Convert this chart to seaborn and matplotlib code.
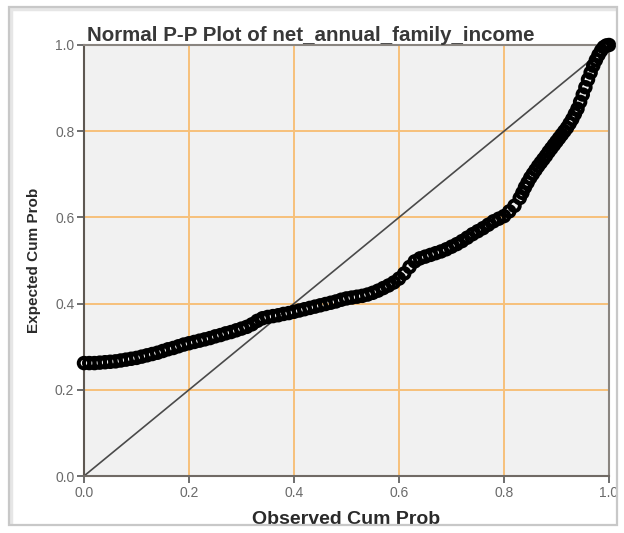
import matplotlib
matplotlib.use("Agg")
import matplotlib.pyplot as plt
import seaborn as sns
import pandas as pd
from matplotlib.patches import Rectangle

# Observed vs expected cumulative probabilities for net_annual_family_income
observed_cum_prob = [
    0.00, 0.01, 0.02, 0.03, 0.04, 0.05, 0.06, 0.07, 0.08, 0.09,
    0.10, 0.11, 0.12, 0.13, 0.14, 0.15, 0.16, 0.17, 0.18, 0.19,
    0.20, 0.21, 0.22, 0.23, 0.24, 0.25, 0.26, 0.27, 0.28, 0.29,
    0.30, 0.31, 0.32, 0.33, 0.34, 0.35, 0.36, 0.37, 0.38, 0.39,
    0.40, 0.41, 0.42, 0.43, 0.44, 0.45, 0.46, 0.47, 0.48, 0.49,
    0.50, 0.51, 0.52, 0.53, 0.54, 0.55, 0.56, 0.57, 0.58, 0.59,
    0.60, 0.61, 0.62, 0.63, 0.64, 0.65, 0.66, 0.67, 0.68, 0.69,
    0.70, 0.71, 0.72, 0.73, 0.74, 0.75, 0.76, 0.77, 0.78, 0.79,
    0.80, 0.81, 0.82, 0.83, 0.835, 0.84, 0.845, 0.85, 0.855, 0.86,
    0.865, 0.87, 0.875, 0.88, 0.885, 0.89, 0.895, 0.90, 0.905, 0.91,
    0.915, 0.92, 0.925, 0.93, 0.935, 0.94, 0.945, 0.95, 0.955, 0.96,
    0.965, 0.97, 0.975, 0.98, 0.985, 0.99, 0.995, 1.00,
]
expected_cum_prob = [
    0.262, 0.262, 0.262, 0.263, 0.264, 0.265, 0.266, 0.268, 0.270, 0.272,
    0.274, 0.277, 0.280, 0.283, 0.286, 0.290, 0.294, 0.297, 0.301, 0.305,
    0.308, 0.311, 0.314, 0.317, 0.320, 0.324, 0.327, 0.331, 0.334, 0.338,
    0.342, 0.346, 0.352, 0.360, 0.366, 0.369, 0.371, 0.373, 0.376, 0.378,
    0.381, 0.384, 0.387, 0.390, 0.393, 0.396, 0.399, 0.402, 0.405, 0.409,
    0.412, 0.414, 0.416, 0.418, 0.421, 0.425, 0.430, 0.436, 0.442, 0.449,
    0.458, 0.470, 0.485, 0.498, 0.505, 0.509, 0.513, 0.517, 0.521, 0.526,
    0.532, 0.538, 0.545, 0.553, 0.561, 0.568, 0.575, 0.583, 0.591, 0.597,
    0.603, 0.614, 0.627, 0.645, 0.657, 0.670, 0.681, 0.692, 0.701, 0.710,
    0.719, 0.727, 0.735, 0.743, 0.752, 0.760, 0.768, 0.776, 0.784, 0.792,
    0.800, 0.808, 0.818, 0.828, 0.840, 0.852, 0.868, 0.885, 0.902, 0.920,
    0.936, 0.952, 0.965, 0.977, 0.987, 0.995, 0.999, 1.000,
]

# Reference diagonal (perfect normality)
diagonal_x = [0.0, 1.0]
diagonal_y = [0.0, 1.0]

tick_values = [0.0, 0.2, 0.4, 0.6, 0.8, 1.0]
tick_labels = ["0.0", "0.2", "0.4", "0.6", "0.8", "1.0"]
grid_values = [0.2, 0.4, 0.6, 0.8]

sns.set_theme(style="white")
plt.rcParams["font.family"] = ["Liberation Sans", "DejaVu Sans"]

fig = plt.figure(figsize=(6.24, 5.33), dpi=100)
fig.patch.set_facecolor("white")
ax = fig.add_axes([84 / 624, 57 / 533, 525 / 624, 431 / 533])
ax.set_facecolor("#f1f1f1")

grid_color = "#f7c07a"
for g in grid_values:
    ax.axvline(g, color=grid_color, lw=1.4, zorder=1)
    ax.axhline(g, color=grid_color, lw=1.4, zorder=1)

df = pd.DataFrame({"obs": observed_cum_prob, "exp": expected_cum_prob})
sns.lineplot(x=diagonal_x, y=diagonal_y, ax=ax, color="#4a4a4a", lw=1.2, zorder=2)
sns.scatterplot(data=df, x="obs", y="exp", ax=ax, marker="o", s=58,
                facecolors="none", edgecolors="black", linewidth=2.8, zorder=3,
                clip_on=False)

ax.set_xlim(0, 1)
ax.set_ylim(0, 1)
ax.set_xticks(tick_values)
ax.set_xticklabels(tick_labels)
ax.set_yticks(tick_values)
ax.set_yticklabels(tick_labels)
ax.tick_params(axis="both", which="major", direction="out", length=5, width=1.2,
               color="#555555", labelsize=10, labelcolor="#6a6a6a", pad=2,
               bottom=True, left=True)

for side in ["left", "bottom", "top", "right"]:
    ax.spines[side].set_color("#5e5852")
    ax.spines[side].set_linewidth(1.5)
ax.spines["top"].set_color("#8a8580")
ax.spines["right"].set_color("#8a8580")
ax.spines["bottom"].set_color("#706a65")

ax.set_xlabel("Observed Cum Prob", fontsize=14, fontweight="bold",
              color="#2a2a2a", labelpad=8)
ax.set_ylabel("Expected Cum Prob", fontsize=11, fontweight="bold",
              color="#2a2a2a", labelpad=10)
title = ax.set_title("Normal P-P Plot of net_annual_family_income", fontsize=14.8,
                     fontweight="bold", color="#383838", pad=3)
title.set_x((311 - 84) / 525)

# Outer panel frame that crops the chart edges
W, H = 624, 533
fig.add_artist(Rectangle((617 / W, 0), 7 / W, 1, transform=fig.transFigure,
                         facecolor="white", edgecolor="none", zorder=10))
fig.add_artist(Rectangle((0, 0), 1, 8 / H, transform=fig.transFigure,
                         facecolor="white", edgecolor="none", zorder=10))
fig.add_artist(Rectangle((9 / W, 8 / H), 608 / W, 518 / H,
                         transform=fig.transFigure, facecolor="none",
                         edgecolor="#c8c8c8", lw=1.6, zorder=11))
fig.add_artist(Rectangle((11 / W, 6 / H), 608 / W, 518 / H,
                         transform=fig.transFigure, facecolor="none",
                         edgecolor="#e6e6e6", lw=2.5, zorder=9))

fig.savefig("out.png", dpi=100, facecolor="white")
